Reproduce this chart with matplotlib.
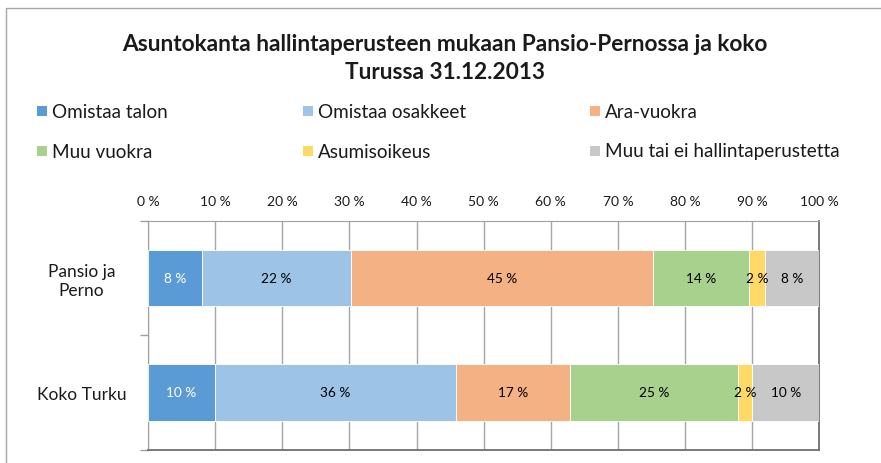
import matplotlib
matplotlib.use("Agg")
import matplotlib.pyplot as plt
from matplotlib.patches import Rectangle
import numpy as np

plt.rcParams['font.family'] = ['Lato', 'DejaVu Sans']

categories = ["Pansio ja\nPerno", "Koko Turku"]
series = ["Omistaa talon", "Omistaa osakkeet", "Ara-vuokra",
          "Muu vuokra", "Asumisoikeus", "Muu tai ei hallintaperustetta"]
values = {
    "Omistaa talon": [8.0, 10.0],
    "Omistaa osakkeet": [22.2, 35.9],
    "Ara-vuokra": [45.0, 17.0],
    "Muu vuokra": [14.4, 25.0],
    "Asumisoikeus": [2.3, 2.1],
    "Muu tai ei hallintaperustetta": [8.1, 10.0],
}
colors = ["#5B9BD5", "#9DC3E6", "#F4B183", "#A9D18E", "#FFD966", "#C8C8C8"]
label_colors = ["white", "black", "black", "black", "black", "black"]
xticks = list(range(0, 101, 10))
title = "Asuntokanta hallintaperusteen mukaan Pansio-Pernossa ja koko\nTurussa 31.12.2013"

W, H = 881, 464
fig = plt.figure(figsize=(W / 100, H / 100), dpi=100)

# outer chart border
fig.patches.append(Rectangle((6 / W, -0.1), 2.0, (H - 8.5) / H + 0.1,
                             transform=fig.transFigure, fill=False,
                             edgecolor="#A6A6A6", linewidth=1.0))

ax = fig.add_axes([148 / W, (H - 450.7) / H, (819.3 - 148) / W, (450.7 - 221.7) / H])

y = np.array([1, 0])
left = np.zeros(len(categories))
for s, c, lc in zip(series, colors, label_colors):
    v = np.array(values[s])
    bars = ax.barh(y, v, left=left, height=0.49, color=c, edgecolor="white",
                   linewidth=0.6, zorder=3)
    ax.bar_label(bars, labels=[f"{round(x):.0f} %" for x in v], label_type="center",
                 color=lc, fontsize=9.8, zorder=4)
    left += v

ax.set_xlim(0, 100)
ax.set_ylim(-0.5, 1.5)
ax.set_xticks(xticks)
ax.set_xticklabels([f"{t} %" for t in xticks], fontsize=10, color="#1a1a1a")
ax.xaxis.tick_top()
ax.tick_params(axis="x", length=0, pad=10)
ax.set_yticks(y)
ax.set_yticklabels(categories, fontsize=12.5, color="#1a1a1a", ha="center")
ax.tick_params(axis="y", which="major", length=0, pad=48)
ax.set_yticks([-0.5, 0.5, 1.5], minor=True)
ax.tick_params(axis="y", which="minor", length=6, color="#A0A0A0", width=1)
ax.grid(axis="x", color="#A6A6A6", linewidth=1.0, zorder=0)
for sp in ["top", "left"]:
    ax.spines[sp].set_color("#A0A0A0")
for sp in ["bottom", "right"]:
    ax.spines[sp].set_color("#6E6E6E")
    ax.spines[sp].set_linewidth(1.3)

fig.text(445 / W, 1 - 58.5 / H, title, ha="center", va="center", fontsize=16.3,
         fontweight="bold", color="#1a1a1a", linespacing=1.42)

# legend (2 rows x 3 columns)
leg_x = [37, 303, 590]
leg_y = [112, 152]
for i, (s, c) in enumerate(zip(series, colors)):
    r, col = divmod(i, 3)
    x0, y0 = leg_x[col], leg_y[r]
    fig.patches.append(Rectangle((x0 / W, 1 - (y0 + 5) / H), 10 / W, 10 / H,
                                 transform=fig.transFigure, facecolor=c,
                                 edgecolor="none"))
    fig.text((x0 + 15) / W, 1 - y0 / H, s, ha="left", va="center",
             fontsize=13.6, color="#1a1a1a")

fig.savefig("out.png", dpi=100)
